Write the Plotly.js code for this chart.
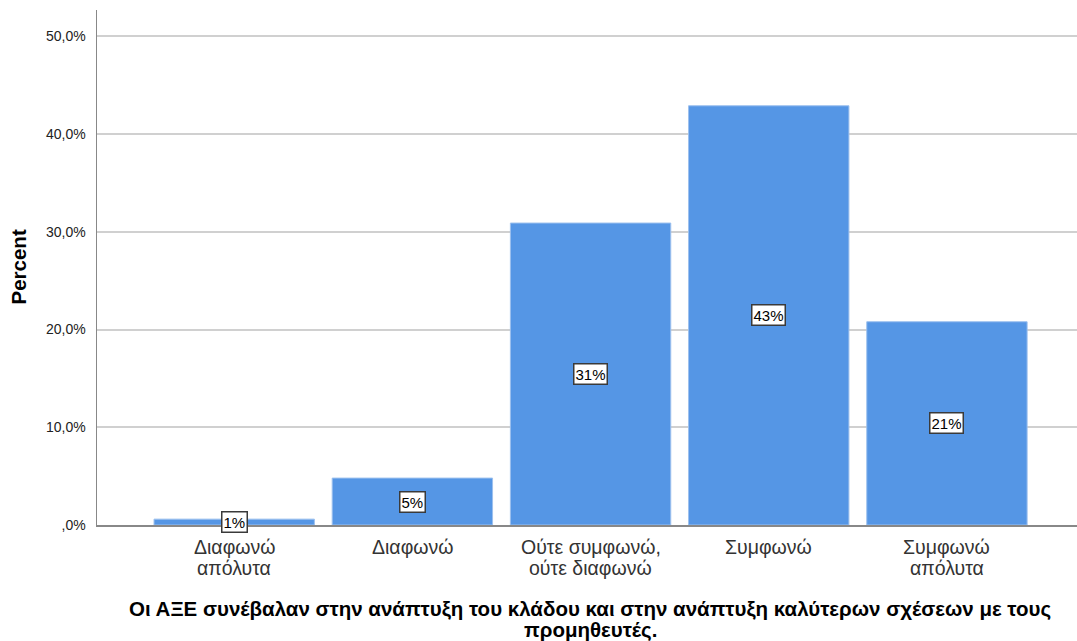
<!DOCTYPE html>
<html>
<head>
<meta charset="utf-8">
<script src="https://cdn.plot.ly/plotly-3.0.1.min.js"></script>
<style>html,body{margin:0;padding:0;background:#fff;}#chart{width:1077px;height:641px;}</style>
</head>
<body>
<div id="chart"></div>
<script>
const categories = ["Διαφωνώ\nαπόλυτα", "Διαφωνώ", "Ούτε συμφωνώ,\nούτε διαφωνώ", "Συμφωνώ", "Συμφωνώ\nαπόλυτα"];
const percents = [0.6, 4.8, 30.9, 42.9, 20.8];
const barLabels = ["1%", "5%", "31%", "43%", "21%"];
const yTickVals = [0, 10, 20, 30, 40, 50];
const yTickText = [",0%", "10,0%", "20,0%", "30,0%", "40,0%", "50,0%"];
const xTitleLines = ["Οι ΑΞΕ συνέβαλαν στην ανάπτυξη του κλάδου και στην ανάπτυξη καλύτερων σχέσεων με τους", "προμηθευτές."];
const yTitle = "Percent";

const FONT = 'Liberation Sans, Arial, sans-serif';
const xs = categories.map((c, i) => i);

const trace = {
  type: 'bar',
  x: xs,
  y: percents,
  marker: {color: '#5596e5', line: {color: '#9cc0ee', width: 1}},
  hoverinfo: 'none'
};

const annotations = [];
// value labels in the middle of each bar
percents.forEach((v, i) => annotations.push({
  x: i, y: v / 2, xref: 'x', yref: 'y',
  text: barLabels[i], showarrow: false,
  bgcolor: '#ffffff', bordercolor: '#3a3a3a', borderwidth: 1.5, borderpad: 1,
  font: {family: FONT, size: 15, color: '#000'}
}));
// category labels, one annotation per line for tight line spacing
categories.forEach((c, i) => {
  c.split('\n').forEach((line, k) => annotations.push({
    x: i, xref: 'x', y: 0, yref: 'paper', yanchor: 'middle',
    yshift: -22 - 20.5 * k, text: line, showarrow: false,
    font: {family: FONT, size: 19.5, color: '#333'}
  }));
});
// x axis title (two lines)
xTitleLines.forEach((line, k) => annotations.push({
  x: 0.5, xref: 'paper', xshift: 3, y: 0, yref: 'paper', yanchor: 'middle',
  yshift: -84 - 21 * k, text: '<b>' + line + '</b>', showarrow: false,
  font: {family: FONT, size: 20.5, color: '#000'}
}));
// y axis title
annotations.push({
  x: 0, xref: 'paper', xanchor: 'center', xshift: -79, y: 0.5, yref: 'paper', yanchor: 'middle',
  text: '<b>' + yTitle + '</b>', textangle: -90, showarrow: false,
  font: {family: FONT, size: 20.5, color: '#000'}
});

const layout = {
  width: 1077, height: 641,
  margin: {l: 97, r: 0, t: 10, b: 116},
  paper_bgcolor: '#fff', plot_bgcolor: '#fff',
  bargap: 0.1,
  showlegend: false,
  font: {family: FONT, color: '#222'},
  xaxis: {
    range: [-0.77, 4.73],
    tickmode: 'array', tickvals: xs, showticklabels: false,
    ticks: '', showgrid: false, zeroline: false,
    showline: true, linecolor: '#888', linewidth: 1.5,
    fixedrange: true
  },
  yaxis: {
    range: [0, 52.7],
    tickmode: 'array', tickvals: yTickVals, ticktext: yTickText,
    ticks: '', showgrid: true, gridcolor: '#d0d0d0', gridwidth: 2,
    zeroline: false, showline: true, linecolor: '#888', linewidth: 1.5,
    tickfont: {size: 14, color: '#222'},
    ticklabelstandoff: 7,
    fixedrange: true
  },
  annotations: annotations
};

Plotly.newPlot('chart', [trace], layout, {displayModeBar: false, staticPlot: true});
</script>
</body>
</html>
